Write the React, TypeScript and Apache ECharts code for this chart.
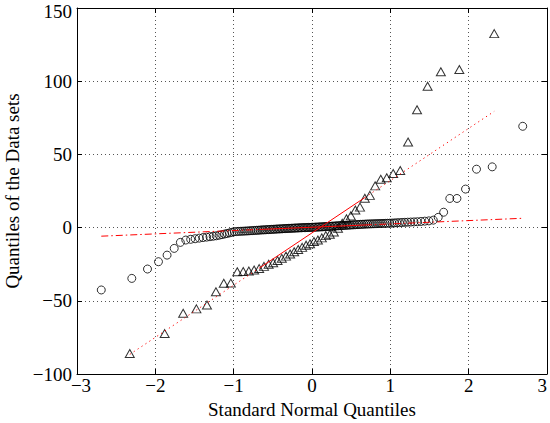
import React, { useEffect, useRef } from "react";
import * as echarts from "echarts";

// Sample quantiles (sorted), circles: 140 values, triangles: 50 values
const circleValues: number[] = [
  -42.6, -34.7, -28.3, -23.3, -18.8, -14.2, -10.1, -8.5,
  -8.0, -7.6, -7.2, -6.8, -6.5, -6.2, -5.9, -5.6, -5.2, -4.8, -4.4, -4.0, -3.6, -3.2,
  -2.8, -2.7, -2.6, -2.5, -2.45, -2.35, -2.3, -2.2, -2.1, -2.05,
  -1.95, -1.85, -1.8, -1.7, -1.6, -1.55, -1.5, -1.4, -1.35, -1.3,
  -1.2, -1.15, -1.1, -1.0, -0.95, -0.9, -0.85, -0.8, -0.7, -0.65,
  -0.6, -0.55, -0.5, -0.45, -0.4, -0.35, -0.3, -0.25, -0.2, -0.15,
  -0.1, -0.05, 0.0, 0.0, 0.05, 0.1, 0.1, 0.15,
  0.2, 0.25, 0.3, 0.35, 0.4, 0.45, 0.5, 0.55, 0.6, 0.7,
  0.75, 0.8, 0.85, 0.9, 1.0, 1.05, 1.1, 1.2, 1.25, 1.3,
  1.4, 1.45, 1.5, 1.6, 1.65, 1.7, 1.8, 1.85, 1.9, 2.0,
  2.05, 2.1, 2.2, 2.25, 2.3, 2.4, 2.45, 2.5, 2.55, 2.6,
  2.65, 2.7, 2.75, 2.8, 2.85, 2.9, 2.95, 3.0,
  3.1, 3.2, 3.3, 3.4, 3.5, 3.6, 3.7, 3.8, 3.9, 4.0, 4.2, 4.4,
  4.6, 5.1, 7.0, 10.5, 19.9, 19.9, 26.3, 39.9, 41.5, 69.2,
];

const triangleValues: number[] = [
  -86, -72.4, -58.5, -55.5, -52.9, -43.8, -38, -37.8, -30.2, -30,
  -29.6, -29, -28, -26.5, -25, -24, -22.5, -21, -19.5, -18,
  -16.5, -15, -13.5, -12, -11, -9.5, -8.5, -7, -5.5, -4.5,
  -3, -0.5, 3, 6, 8, 12, 14, 20, 22, 28.5,
  33, 34, 37, 39, 58.5, 80.5, 96.5, 106.5, 108, 132.5,
];

// Reference lines (through first/third quartiles, extended to the data range)
const circleLineX = [-2.69, -0.674, 0.674, 2.69];
const circleLineY = [-5.86, -1.28, 1.78, 6.36];
const triangleLineX = [-2.326, -0.674, 0.674, 2.326];
const triangleLineY = [-86.6, -27.7, 20.5, 79.4];

const xTicks = { min: -3, max: 3, interval: 1 };
const yTicks = { min: -100, max: 150, interval: 50 };

const xName = "Standard Normal Quantiles";
const yName = "Quantiles of the Data sets";

// Standard normal inverse CDF (Acklam) for the theoretical plotting positions (i-0.5)/n
function normInv(p: number): number {
  const a = [-3.969683028665376e1, 2.209460984245205e2, -2.759285104469687e2, 1.38357751867269e2, -3.066479806614716e1, 2.506628277459239];
  const b = [-5.447609879822406e1, 1.615858368580409e2, -1.556989798598866e2, 6.680131188771972e1, -1.328068155288572e1];
  const c = [-7.784894002430293e-3, -3.223964580411365e-1, -2.400758277161838, -2.549732539343734, 4.374664141464968, 2.938163982698783];
  const d = [7.784695709041462e-3, 3.224671290700398e-1, 2.445134137142996, 3.754408661907416];
  const plow = 0.02425;
  if (p < plow) {
    const q = Math.sqrt(-2 * Math.log(p));
    return (((((c[0] * q + c[1]) * q + c[2]) * q + c[3]) * q + c[4]) * q + c[5]) / ((((d[0] * q + d[1]) * q + d[2]) * q + d[3]) * q + 1);
  }
  if (p <= 1 - plow) {
    const q = p - 0.5;
    const r = q * q;
    return ((((((a[0] * r + a[1]) * r + a[2]) * r + a[3]) * r + a[4]) * r + a[5]) * q) / (((((b[0] * r + b[1]) * r + b[2]) * r + b[3]) * r + b[4]) * r + 1);
  }
  const q = Math.sqrt(-2 * Math.log(1 - p));
  return -(((((c[0] * q + c[1]) * q + c[2]) * q + c[3]) * q + c[4]) * q + c[5]) / ((((d[0] * q + d[1]) * q + d[2]) * q + d[3]) * q + 1);
}

function qq(values: number[]): number[][] {
  const n = values.length;
  return values.map((v, i) => [normInv((i + 0.5) / n), v]);
}

const FONT = "'Liberation Serif', 'Times New Roman', serif";
const minus = (v: number) => String(v).replace("-", "\u2212");

export default function App() {
  const ref = useRef<HTMLDivElement>(null);
  useEffect(() => {
    document.body.style.margin = "0";
    if (!ref.current) return;
    const chart = echarts.init(ref.current, undefined, { renderer: "svg" });
    const axisLine = { show: true, onZero: false, lineStyle: { color: "#000", width: 1 } };
    const tick = { show: true, inside: true, length: 5, lineStyle: { color: "#000", width: 1 } };
    const grid = { show: true, lineStyle: { color: "#555", width: 1, type: [1, 3] as any } };
    const seg = (xs: number[], ys: number[], from: number, to: number) =>
      xs.slice(from, to + 1).map((x, k) => [x, ys[from + k]]);
    const redLine = (data: number[][], type: any) => ({
      type: "line",
      data,
      symbol: "none",
      silent: true,
      z: 5,
      lineStyle: { color: "#ff0000", width: 1, type },
    });
    const dotted = [1.2, 3.5];
    const dashDot = [7, 3, 1.5, 3];
    const yLabel = (v: number) => (v === yTicks.max ? "{top|" + minus(v) + "}" : minus(v));
    const xLabel = (v: number) => (v === xTicks.min ? "{first|" + minus(v) + "}" : minus(v));
    chart.setOption({
      animation: false,
      backgroundColor: "#fff",
      grid: { left: 77, right: 3, top: 8, bottom: 49, containLabel: false, outerBoundsMode: "none" },
      xAxis: [
        {
          type: "value",
          ...xTicks,
          position: "bottom",
          axisLine,
          axisTick: tick,
          splitLine: grid,
          axisLabel: {
            color: "#000",
            fontFamily: FONT,
            fontSize: 19,
            margin: 2,
            formatter: xLabel,
            alignMaxLabel: "right",
            rich: { first: { fontFamily: FONT, fontSize: 19, color: "#000", padding: [0, 0, 0, 8] } },
          },
          name: xName,
          nameLocation: "middle",
          nameGap: 20,
          nameTextStyle: { color: "#000", fontFamily: FONT, fontSize: 19 },
        },
        {
          type: "value",
          ...xTicks,
          position: "top",
          axisLine,
          axisTick: tick,
          splitLine: { show: false },
          axisLabel: { show: false },
        },
      ],
      yAxis: [
        {
          type: "value",
          ...yTicks,
          position: "left",
          axisLine,
          axisTick: tick,
          splitLine: grid,
          axisLabel: {
            color: "#000",
            fontFamily: FONT,
            fontSize: 19,
            margin: 5,
            formatter: yLabel,
            rich: { top: { fontFamily: FONT, fontSize: 19, color: "#000", padding: [7, 0, 0, 0] } },
          },
          name: yName,
          nameLocation: "middle",
          nameGap: 49,
          nameTextStyle: { color: "#000", fontFamily: FONT, fontSize: 19 },
        },
        {
          type: "value",
          ...yTicks,
          position: "right",
          axisLine,
          axisTick: tick,
          splitLine: { show: false },
          axisLabel: { show: false },
        },
      ],
      series: [
        {
          type: "scatter",
          data: qq(circleValues),
          symbol: "circle",
          symbolSize: 8,
          silent: true,
          itemStyle: { color: "rgba(0,0,0,0)", borderColor: "#000", borderWidth: 1 },
        },
        {
          type: "scatter",
          data: qq(triangleValues),
          symbol: "triangle",
          symbolSize: [9, 8],
          silent: true,
          itemStyle: { color: "rgba(0,0,0,0)", borderColor: "#000", borderWidth: 1 },
        },
        redLine(seg(circleLineX, circleLineY, 0, 1), dashDot),
        redLine(seg(circleLineX, circleLineY, 1, 2), "solid"),
        redLine(seg(circleLineX, circleLineY, 2, 3), dashDot),
        redLine(seg(triangleLineX, triangleLineY, 0, 1), dotted),
        redLine(seg(triangleLineX, triangleLineY, 1, 2), "solid"),
        redLine(seg(triangleLineX, triangleLineY, 2, 3), dotted),
      ],
    });
    return () => chart.dispose();
  }, []);
  return <div ref={ref} style={{ position: "absolute", left: 0, top: 0, width: 550, height: 423 }} />;
}
